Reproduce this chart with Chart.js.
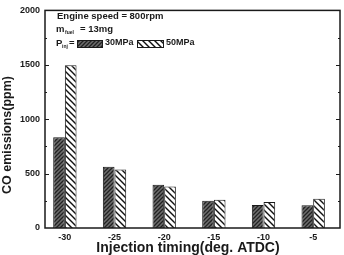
<!DOCTYPE html>
<html>
<head>
<meta charset="utf-8">
<script src="https://cdn.jsdelivr.net/npm/chart.js@4.4.0/dist/chart.umd.min.js"></script>
<style>
  html, body { margin: 0; padding: 0; background: #fff; }
  #wrap { width: 344px; height: 255px; position: relative; }
</style>
</head>
<body>
<div id="wrap"><canvas id="coChart" width="344" height="255"></canvas></div>
<script>
// injection timing (deg. ATDC)
const timings = [-30, -25, -20, -15, -10, -5];
// CO emissions (ppm)
const co30 = [835, 562, 397, 250, 211, 208];
const co50 = [1495, 538, 382, 260, 238, 269];
const yTicks = [0, 500, 1000, 1500, 2000];

const FONT = "'Liberation Sans', Arial, sans-serif";
const INK = '#1a1a1a';

function hatch(kind) {
    const c = document.createElement('canvas');
    const s = kind === 'dense' ? 4 : 6;
    c.width = s; c.height = s;
    const g = c.getContext('2d');
    if (kind === 'dense') {
        g.fillStyle = '#6e6e6e';
        g.fillRect(0, 0, s, s);
        g.strokeStyle = '#222';
        g.lineWidth = 1.3;
        g.beginPath();
        g.moveTo(0, s); g.lineTo(s, 0);
        g.moveTo(-1, 1); g.lineTo(1, -1);
        g.moveTo(s - 1, s + 1); g.lineTo(s + 1, s - 1);
        g.stroke();
    } else {
        g.fillStyle = '#fff';
        g.fillRect(0, 0, s, s);
        g.strokeStyle = '#111';
        g.lineWidth = 1.4;
        g.beginPath();
        g.moveTo(0, 0); g.lineTo(s, s);
        g.moveTo(-1, s - 1); g.lineTo(1, s + 1);
        g.moveTo(s - 1, -1); g.lineTo(s + 1, 1);
        g.stroke();
    }
    return g.createPattern(c, 'repeat');
}

const pat30 = hatch('dense');
const pat50 = hatch('sparse');

const framePlugin = {
    id: 'frame',
    afterDatasetsDraw(chart) {
        const { ctx, chartArea: a, scales } = chart;
        ctx.save();
        ctx.strokeStyle = INK;
        ctx.lineWidth = 1.5;
        ctx.strokeRect(a.left, a.top, a.right - a.left, a.bottom - a.top);
        ctx.lineWidth = 1;
        ctx.beginPath();
        for (let v = 250; v < 2000; v += 250) {
            const y = Math.round(scales.y.getPixelForValue(v)) + 0.5;
            const len = v % 500 === 0 ? 4 : 2;
            ctx.moveTo(a.left, y); ctx.lineTo(a.left + len, y);
            ctx.moveTo(a.right, y); ctx.lineTo(a.right - len, y);
        }
        ctx.stroke();
        ctx.restore();
    }
};

// axis titles and the note block inside the plot
const legendPlugin = {
    id: 'notes',
    afterDraw(chart) {
        const ctx = chart.ctx;
        ctx.save();
        ctx.fillStyle = INK;
        ctx.textBaseline = 'middle';
        ctx.textAlign = 'center';
        ctx.font = 'bold 14px ' + FONT;
        ctx.fillText('Injection timing(deg. ATDC)', 188, 248);
        ctx.save();
        ctx.translate(8, 135);
        ctx.rotate(-Math.PI / 2);
        ctx.font = 'bold 12.5px ' + FONT;
        ctx.fillText('CO emissions(ppm)', 0, 0);
        ctx.restore();

        ctx.textAlign = 'left';
        const big = 'bold 9.5px ' + FONT;
        const small = 'bold 5px ' + FONT;
        ctx.font = big;
        ctx.fillText('Engine speed = 800rpm', 57, 16);
        ctx.fillText('m', 56, 29);
        ctx.font = small;
        ctx.fillText('fuel', 65, 33);
        ctx.font = big;
        ctx.fillText('= 13mg', 80, 29);
        ctx.fillText('P', 56, 43);
        ctx.font = small;
        ctx.fillText('inj', 62, 47);
        ctx.font = big;
        ctx.fillText('=', 69, 43);
        ctx.lineWidth = 1;
        ctx.strokeStyle = INK;
        ctx.fillStyle = pat30;
        ctx.fillRect(77, 40, 25, 7);
        ctx.strokeRect(77.5, 40.5, 25, 7);
        ctx.fillStyle = pat50;
        ctx.fillRect(137, 40, 26, 7);
        ctx.strokeRect(137.5, 40.5, 26, 7);
        ctx.fillStyle = INK;
        ctx.font = 'bold 9px ' + FONT;
        ctx.fillText('30MPa', 105, 43);
        ctx.fillText('50MPa', 166, 43);
        ctx.restore();
    }
};

const canvas = document.getElementById('coChart');

new Chart(canvas, {
    type: 'bar',
    data: {
        datasets: [
            {
                label: '30MPa',
                data: timings.map((t, i) => ({ x: t, y: co30[i] })),
                backgroundColor: pat30,
                borderColor: INK,
                borderWidth: 1
            },
            {
                label: '50MPa',
                data: timings.map((t, i) => ({ x: t, y: co50[i] })),
                backgroundColor: pat50,
                borderColor: INK,
                borderWidth: 1
            }
        ]
    },
    options: {
        responsive: false,
        animation: false,
        devicePixelRatio: 1,
        categoryPercentage: 0.47,
        barPercentage: 1.0,
        layout: { padding: { top: 10, right: 4, left: 0, bottom: 0 } },
        plugins: {
            legend: { display: false },
            tooltip: { enabled: false }
        },
        scales: {
            x: {
                type: 'linear',
                min: -32,
                max: -2.3,
                offset: false,
                grid: { display: false, offset: false, drawTicks: false, tickLength: 0 },
                border: { display: false },
                afterBuildTicks(scale) {
                    scale.ticks = timings.map(v => ({ value: v }));
                },
                afterFit(scale) { scale.height = 27; },
                ticks: {
                    color: INK,
                    padding: 4,
                    font: { family: FONT, size: 9, weight: 'bold' },
                    callback: v => String(v)
                }
            },
            y: {
                min: 0,
                max: 2000,
                grid: { display: false, drawTicks: false, tickLength: 0 },
                border: { display: false },
                afterBuildTicks(scale) {
                    scale.ticks = yTicks.map(v => ({ value: v }));
                },
                afterFit(scale) { scale.width = 45; },
                ticks: {
                    color: INK,
                    padding: 5,
                    font: { family: FONT, size: 9, weight: 'bold' },
                    callback: v => String(v)
                }
            }
        }
    },
    plugins: [framePlugin, legendPlugin]
});
</script>
</body>
</html>
